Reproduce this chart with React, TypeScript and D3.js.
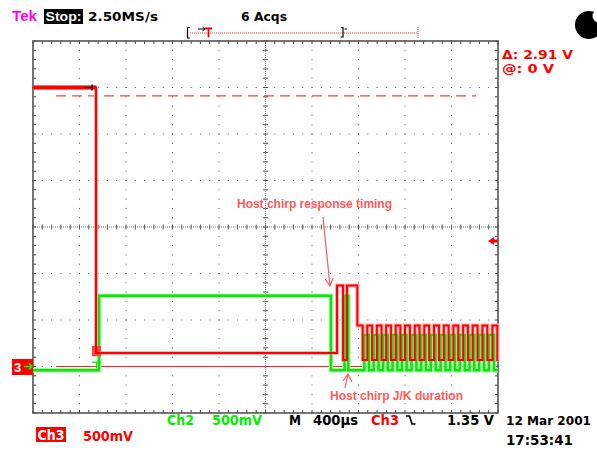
import React from "react";
import * as d3 from "d3";

const WIDTH = 597;
const HEIGHT = 450;

// horizontal: 400 µs/div × 10 div ; vertical: 500 mV/div, 8 div, ground 3 div below centre
const timeSpanUs = [0, 4000];
const voltSpan = [-0.5, 3.5];

// Ch3 (red) levels before the chirp train [µs, V]
const ch3Times = [0, 542, 2615, 2667, 2701, 2790];
const ch3Volts = [3.0, 0.145, 0.87, 0.07, 0.87, 0.44];
// chirp train edges of Ch3 [µs]
const chirpFallUs = [2836, 2917, 2998, 3079, 3160, 3242, 3325, 3408, 3492, 3575, 3658, 3741, 3824, 3908, 3994];
const chirpRiseUs = [2876, 2958, 3038, 3120, 3200, 3284, 3366, 3450, 3534, 3616, 3700, 3782, 3866, 3952];
const ch3ChirpHigh = 0.44;
const ch3ChirpLow = 0.07;

// Ch2 (green)
const ch2Times = [0, 568, 2563, 2680, 2712];
const ch2Volts = [-0.04, 0.76, -0.04, 0.76, -0.04];
const ch2ChirpHigh = 0.34;
const ch2ChirpLow = -0.04;
const ch2EdgeLagUs = 14;

const cursorVolts = [2.91, 0];
const triggerVolts = 1.35;

const topLabels = ["2.50MS/s", "6 Acqs"];
const annotations = ["Host chirp response timing", "Host chirp J/K duration"];

export default function App() {
  const gx0 = 33, gx1 = 498, gy0 = 41, gy1 = 413;
  const xs = d3.scaleLinear().domain(timeSpanUs).range([gx0, gx1]);
  const ys = d3.scaleLinear().domain(voltSpan).range([gy1, gy0]);
  const xd = d3.scaleLinear().domain([0, 10]).range([gx0, gx1]);
  const yd = d3.scaleLinear().domain([0, 8]).range([gy0, gy1]);

  // build traces
  const redEv: [number, number][] = [];
  const greenEv: [number, number][] = [];
  chirpFallUs.forEach((t) => {
    redEv.push([t, ch3ChirpLow]);
    greenEv.push([t + ch2EdgeLagUs, ch2ChirpHigh]);
  });
  chirpRiseUs.forEach((t) => {
    redEv.push([t, ch3ChirpHigh]);
    greenEv.push([t + ch2EdgeLagUs, ch2ChirpLow]);
  });
  redEv.sort((a, b) => a[0] - b[0]);
  greenEv.sort((a, b) => a[0] - b[0]);

  const redPts: [number, number][] = ch3Times.map((t, i) => [t, ch3Volts[i]]);
  const greenPts: [number, number][] = ch2Times.map((t, i) => [t, ch2Volts[i]]);
  redEv.forEach((e) => redPts.push(e));
  greenEv.filter((e) => e[0] < timeSpanUs[1]).forEach((e) => greenPts.push(e));
  redPts.push([timeSpanUs[1], redPts[redPts.length - 1][1]]);
  greenPts.push([timeSpanUs[1], greenPts[greenPts.length - 1][1]]);

  const line = d3
    .line<[number, number]>()
    .x((d) => xs(d[0]))
    .y((d) => ys(d[1]))
    .curve(d3.curveStepAfter);

  // graticule
  const dots: JSX.Element[] = [];
  const minor = d3.range(0, 10.001, 0.2);
  const minorV = d3.range(0, 8.001, 0.2);
  for (let i = 1; i < 10; i++) {
    if (i === 5) continue;
    minorV.forEach((v, k) =>
      dots.push(<rect key={`v${i}-${k}`} x={xd(i) - 0.5} y={yd(v) - 0.5} width={1} height={1} fill="#555" />)
    );
  }
  for (let j = 1; j < 8; j++) {
    if (j === 4) continue;
    minor.forEach((v, k) =>
      dots.push(<rect key={`h${j}-${k}`} x={xd(v) - 0.5} y={yd(j) - 0.5} width={1} height={1} fill="#555" />)
    );
  }
  const ticks: JSX.Element[] = [];
  minor.forEach((v, k) => {
    const x = xd(v);
    ticks.push(<line key={`tt${k}`} x1={x} x2={x} y1={gy0} y2={gy0 + 3} stroke="#444" />);
    ticks.push(<line key={`tb${k}`} x1={x} x2={x} y1={gy1} y2={gy1 - 3} stroke="#444" />);
    ticks.push(<line key={`tc${k}`} x1={x} x2={x} y1={yd(4) - 2.5} y2={yd(4) + 2.5} stroke="#555" />);
  });
  minorV.forEach((v, k) => {
    const y = yd(v);
    ticks.push(<line key={`tl${k}`} x1={gx0} x2={gx0 + 3} y1={y} y2={y} stroke="#444" />);
    ticks.push(<line key={`tr${k}`} x1={gx1} x2={gx1 - 3} y1={y} y2={y} stroke="#444" />);
    ticks.push(<line key={`tm${k}`} x1={xd(5) - 2.5} x2={xd(5) + 2.5} y1={y} y2={y} stroke="#555" />);
  });

  const annColor = "#ff5a5a";
  const mono = "'DejaVu Sans', sans-serif";
  const bold = "'Liberation Sans', Arial, sans-serif";

  const yTrig = ys(triggerVolts);
  const yGnd = ys(0);
  const gPath = line(greenPts) || "";
  const rPath = line(redPts) || "";

  return (
    <svg width={WIDTH} height={HEIGHT} style={{ position: "absolute", left: 0, top: 0, background: "#fff" }}>
      <rect x={0} y={0} width={WIDTH} height={HEIGHT} fill="#fff" />

      {/* header */}
      <text x={12} y={21} fontFamily={bold} fontWeight="bold" fontSize={15} fill="#ff00ff" textLength={25} lengthAdjust="spacingAndGlyphs">Tek</text>
      <rect x={44} y={9} width={39} height={15} fill="#000" />
      <text x={45.5} y={21} fontFamily={bold} fontWeight="bold" fontSize={13} fill="#fff" textLength={36} lengthAdjust="spacingAndGlyphs">Stop:</text>
      <text x={88} y={21} fontFamily={mono} fontSize={13} fontWeight="600" fill="#000" textLength={70} lengthAdjust="spacingAndGlyphs">{topLabels[0]}</text>
      <text x={241} y={21} fontFamily={mono} fontSize={13} fontWeight="600" fill="#000" textLength={46} lengthAdjust="spacingAndGlyphs">{topLabels[1]}</text>

      {/* record bar */}
      <line x1={190} x2={418} y1={33} y2={33} stroke="#ff3030" strokeDasharray="1 1" />
      <line x1={418} x2={418} y1={27} y2={38} stroke="#ff3030" strokeDasharray="1 1" />
      <path d="M190,27.5 H187.5 V38 H190" fill="none" stroke="#000" strokeWidth={1.2} />
      <path d="M198,29 H205 M202.5,27 L205,29 L202.5,31" fill="none" stroke="#000" strokeWidth={1} />
      <path d="M205,28.5 H212 M208.5,28.5 V37.5" fill="none" stroke="#ff0000" strokeWidth={1.8} />
      <path d="M341,27.5 H343 V37 H340.5 M344.5,29 H347" fill="none" stroke="#000" strokeWidth={1.2} />

      {/* busy indicator */}
      <circle cx={589} cy={25} r={14} fill="#000" />
      <circle cx={599} cy={16} r={6.5} fill="#fff" />

      {/* graticule */}
      {dots}
      <line x1={gx0} x2={gx1} y1={yd(4)} y2={yd(4)} stroke="#777" strokeDasharray="1 1" />
      <line x1={xd(5)} x2={xd(5)} y1={gy0} y2={gy1} stroke="#777" strokeDasharray="1 1" />
      {ticks}
      <rect x={gx0} y={gy0} width={gx1 - gx0} height={gy1 - gy0} fill="none" stroke="#555" strokeWidth={1.6} />

      {/* cursors */}
      <line x1={56} x2={476} y1={ys(cursorVolts[0])} y2={ys(cursorVolts[0])} stroke="#ff4040" strokeWidth={1.2} strokeDasharray="10 6" />
      <line x1={56} x2={476} y1={ys(cursorVolts[1])} y2={ys(cursorVolts[1])} stroke="#ff2020" strokeWidth={1.2} />

      {/* traces */}
      <path d={gPath} fill="none" stroke="#9cff9c" strokeWidth={4.5} />
      <path d={rPath} fill="none" stroke="#ffb0b0" strokeWidth={4} />
      <path d={gPath} fill="none" stroke="#10e010" strokeWidth={2.4} />
      <path d={`M${xs(507)},${ys(0.048)} H${xs(585)} M${xs(546)},${ys(0.048)} V${ys(-0.02)}`} fill="none" stroke="#10e010" strokeWidth={1.2} />
      <rect x={xs(507)} y={ys(0.22)} width={xs(585) - xs(507)} height={ys(0.11) - ys(0.22)} fill="#ff4040" />
      <path d={rPath} fill="none" stroke="#ff0000" strokeWidth={2} />
      <path d={`M${xs(0)},${ys(3.0)} H${xs(542)}`} fill="none" stroke="#ff0000" strokeWidth={4} />
      <path d={`M${xs(440)},${ys(3.0)} H${xs(512)} M${xs(506)},${ys(3.0) - 3} L${xs(512)},${ys(3.0)} L${xs(506)},${ys(3.0) + 3}`} fill="none" stroke="#000" strokeWidth={1.2} />

      {/* ground marker */}
      <rect x={12} y={359} width={21} height={16} fill="#ff0000" />
      <text x={14} y={372} fontFamily={bold} fontWeight="bold" fontSize={13} fill="#fff">3</text>
      <path d={`M24,${yGnd} H32 M29,${yGnd - 3} L32,${yGnd} L29,${yGnd + 3}`} fill="none" stroke="#00ff00" strokeWidth={1.5} />

      {/* trigger level marker */}
      <polygon points={`488,${yTrig} 494,${yTrig - 4} 494,${yTrig - 1.5} 498,${yTrig - 1.5} 498,${yTrig + 1.5} 494,${yTrig + 1.5} 494,${yTrig + 4}`} fill="#ff0000" />

      {/* cursor readout */}
      <text x={502} y={59} fontFamily={mono} fontSize={13} fontWeight="600" fill="#ff0000" textLength={71} lengthAdjust="spacingAndGlyphs">Δ: 2.91 V</text>
      <text x={502} y={73} fontFamily={mono} fontSize={13} fontWeight="600" fill="#ff0000" textLength={52} lengthAdjust="spacingAndGlyphs">@: 0 V</text>

      {/* annotations */}
      <text x={237} y={208} fontFamily={bold} fontWeight="bold" fontSize={12} fill={annColor} textLength={155} lengthAdjust="spacingAndGlyphs">{annotations[0]}</text>
      <path d="M323,217 L330,286 M325,279 L330,286 L333,278" fill="none" stroke={annColor} strokeWidth={1.2} />
      <text x={330} y={400} fontFamily={bold} fontWeight="bold" fontSize={12} fill={annColor} textLength={133} lengthAdjust="spacingAndGlyphs">{annotations[1]}</text>
      <path d="M345,388 L348,374 M343,381 L348,374 L352,382" fill="none" stroke={annColor} strokeWidth={1.2} />

      {/* bottom status */}
      <text x={167} y={425} fontFamily={mono} fontSize={14} fontWeight="600" fill="#00ee00" textLength={27} lengthAdjust="spacingAndGlyphs">Ch2</text>
      <text x={212} y={425} fontFamily={mono} fontSize={14} fontWeight="600" fill="#00ee00" textLength={50} lengthAdjust="spacingAndGlyphs">500mV</text>
      <text x={289} y={425} fontFamily={mono} fontSize={14} fontWeight="600" fill="#000" textLength={12} lengthAdjust="spacingAndGlyphs">M</text>
      <text x={313} y={425} fontFamily={mono} fontSize={14} fontWeight="600" fill="#000" textLength={45} lengthAdjust="spacingAndGlyphs">400µs</text>
      <text x={371} y={425} fontFamily={mono} fontSize={14} fontWeight="600" fill="#ff0000" textLength={28} lengthAdjust="spacingAndGlyphs">Ch3</text>
      <path d="M406,416 H409.5 L412,424 H415.5" fill="none" stroke="#000" strokeWidth={1.6} />
      <text x={447} y={425} fontFamily={mono} fontSize={14} fontWeight="600" fill="#000" textLength={47} lengthAdjust="spacingAndGlyphs">1.35 V</text>
      <text x={506} y={425} fontFamily={mono} fontSize={13} fontWeight="600" fill="#000" textLength={85} lengthAdjust="spacingAndGlyphs">12 Mar 2001</text>
      <text x={506} y={445} fontFamily={mono} fontSize={14} fontWeight="600" fill="#000" textLength={67} lengthAdjust="spacingAndGlyphs">17:53:41</text>
      <rect x={36} y={427} width={30} height={15} fill="#ff0000" />
      <text x={37.5} y={440} fontFamily={mono} fontSize={14} fontWeight="600" fill="#fff" textLength={27} lengthAdjust="spacingAndGlyphs">Ch3</text>
      <text x={83} y={441} fontFamily={mono} fontSize={14} fontWeight="600" fill="#ff0000" textLength={50} lengthAdjust="spacingAndGlyphs">500mV</text>
    </svg>
  );
}
